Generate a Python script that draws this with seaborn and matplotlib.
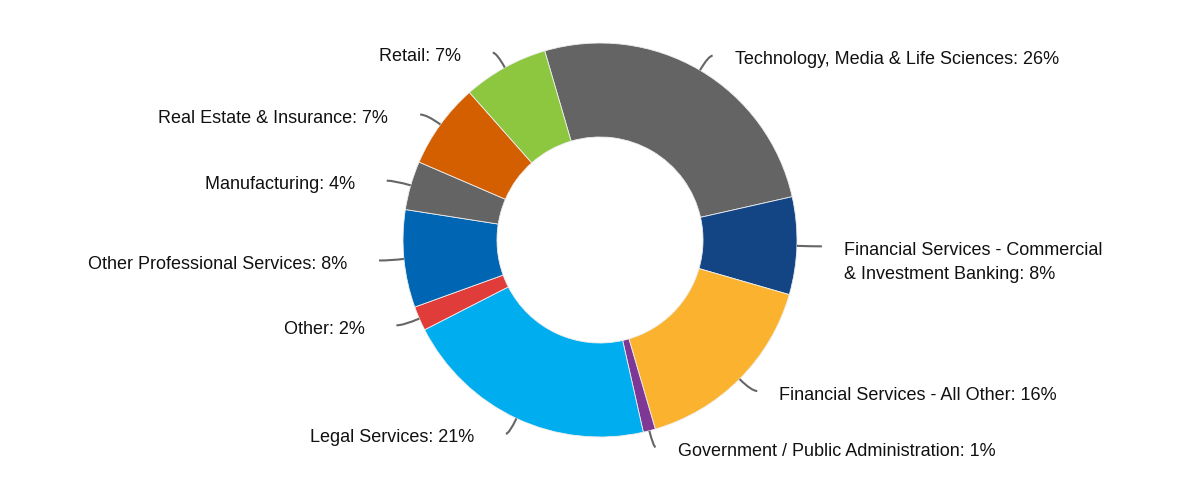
import numpy as np
import seaborn as sns
import matplotlib.pyplot as plt
from matplotlib.path import Path
from matplotlib.patches import PathPatch

# Industry shares (%), clockwise starting from the top
industries = ['Technology, Media & Life Sciences',
              'Financial Services - Commercial\n& Investment Banking',
              'Financial Services - All Other',
              'Government / Public Administration',
              'Legal Services',
              'Other',
              'Other Professional Services',
              'Manufacturing',
              'Real Estate & Insurance',
              'Retail']
shares = [26, 8, 16, 1, 21, 2, 8, 4, 7, 7]
colors = ['#646464', '#134585', '#FBB32F', '#7E3794', '#00ADEF',
          '#E03C3A', '#0066B3', '#646464', '#D35F00', '#8DC63F']

sns.set_style("white")
plt.rcParams['font.family'] = ['Liberation Sans', 'DejaVu Sans']

fig = plt.figure(figsize=(12, 4.8), dpi=100)
ax = fig.add_axes([0, 0, 1, 1])

cx, cy, R = 600, 240, 197
wedges, _ = ax.pie(shares, colors=sns.color_palette(colors), startangle=106.3,
                   counterclock=False, radius=R, center=(cx, cy),
                   wedgeprops=dict(width=94, edgecolor='#eeeeee', linewidth=0.6))

# Labels with curved connectors
for w, name, val in zip(wedges, industries, shares):
    mid = np.deg2rad((w.theta1 + w.theta2) / 2)
    c, s = np.cos(mid), np.sin(mid)
    side = 1 if c > 0 else -1
    sx, sy = cx + R * c, cy + R * s
    ex, ey = cx + 222 * c, cy + 214 * s
    # control point: where the radial line meets the label's row
    kx = (sx + ex) / 2
    if abs(s) > 0.2:
        t = (ey - sy) / s
        if t > 0:
            kx = sx + t * c
            kx = min(max(kx, min(sx, ex)), max(sx, ex))
    path = Path([(sx, sy), (kx, ey), (ex, ey)],
                [Path.MOVETO, Path.CURVE3, Path.CURVE3])
    ax.add_patch(PathPatch(path, fill=False, edgecolor='#666666', lw=1.5))
    tx = ex + (22 if side > 0 else -32)
    text = f'{name}: {val}%'
    nlines = text.count('\n') + 1
    ax.text(tx, ey - 4 - (nlines - 1) * 12, text,
            ha='left' if side > 0 else 'right', va='center',
            fontsize=13, color='#111111', linespacing=1.5)

ax.set_xlim(0, 1200)
ax.set_ylim(0, 480)
ax.set_aspect('equal')
ax.axis('off')

fig.savefig('out.png', dpi=100, facecolor='white')
